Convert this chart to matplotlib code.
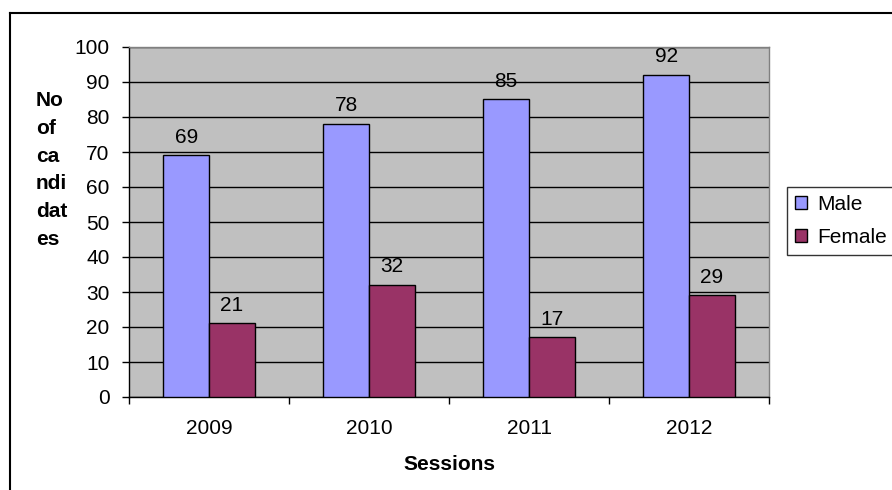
import numpy as np
import matplotlib
matplotlib.use("Agg")
import matplotlib.pyplot as plt
from matplotlib.lines import Line2D

plt.rcParams['font.family'] = ['Liberation Sans', 'DejaVu Sans']

sessions = ['2009', '2010', '2011', '2012']
male = [69, 78, 85, 92]
female = [21, 32, 17, 29]

fs = 15

fig = plt.figure(figsize=(8.92, 4.90), dpi=100)
ax = fig.add_axes([129/892, 1-397/490, 640/892, 350/490])
ax.set_facecolor('#C0C0C0')

x = np.arange(len(sessions))
w = 0.285
b1 = ax.bar(x - w/2, male, w, color='#9999FF', edgecolor='black', linewidth=1, label='Male', zorder=3)
b2 = ax.bar(x + w/2, female, w, color='#993366', edgecolor='black', linewidth=1, label='Female', zorder=3)

for bars, vals in [(b1, male), (b2, female)]:
    for r, v in zip(bars, vals):
        ax.annotate(str(v), (r.get_x() + r.get_width()/2, v), xytext=(0, 13),
                    textcoords='offset points', ha='center', va='center', fontsize=fs)

ax.set_xlim(-0.5, 3.5)
ax.set_ylim(0, 100)
ax.set_yticks(range(0, 101, 10))
ax.yaxis.grid(True, color='black', linewidth=1, zorder=1)
ax.set_axisbelow(True)

ax.set_xticks(x)
ax.set_xticklabels(sessions)
ax.set_xticks(np.arange(-0.5, 4, 1), minor=True)
ax.tick_params(axis='x', which='major', length=0, pad=16, labelsize=fs)
ax.tick_params(axis='x', which='minor', length=5, width=1, direction='out')
ax.tick_params(axis='y', length=5, width=1, pad=9, labelsize=fs)

for s in ['left', 'bottom']:
    ax.spines[s].set_color('black')
    ax.spines[s].set_linewidth(1)
for s in ['top', 'right']:
    ax.spines[s].set_color('#808080')
    ax.spines[s].set_linewidth(1)

ax.set_xlabel('Sessions', fontsize=fs, fontweight='bold', labelpad=12)
fig.text(36/892, 1-170/490, 'No\nof\nca\nndi\ndat\nes', fontsize=fs, fontweight='bold',
         ha='left', va='center', linespacing=1.58)

leg = ax.legend(loc='upper left', bbox_to_anchor=(787/892, 1-187/490),
                bbox_transform=fig.transFigure, fontsize=fs, frameon=True, fancybox=False,
                handlelength=0.6, handleheight=0.6, handletextpad=0.45, borderpad=0.38,
                labelspacing=0.68, borderaxespad=0)
leg.get_frame().set_edgecolor('black')
leg.get_frame().set_linewidth(1)

# outer chart border (left and top edges visible)
fig.add_artist(Line2D([10/892, 10/892], [0, 1-13/490], transform=fig.transFigure, color='black', linewidth=1.5))
fig.add_artist(Line2D([10/892, 1], [1-13/490, 1-13/490], transform=fig.transFigure, color='black', linewidth=1.5))

fig.savefig('out.png', dpi=100)
